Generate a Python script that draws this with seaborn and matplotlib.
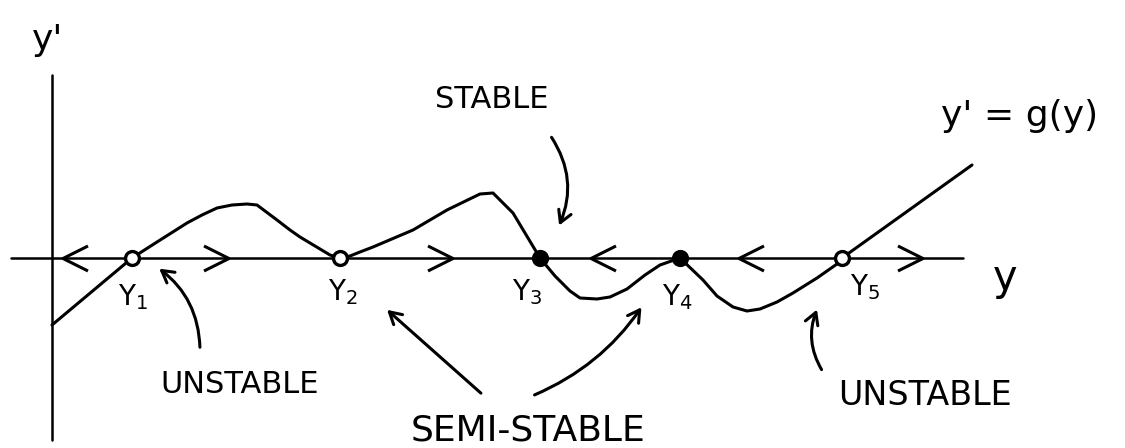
import matplotlib
matplotlib.use("Agg")
import matplotlib.pyplot as plt
from matplotlib.path import Path
import pandas as pd
import seaborn as sns

# g(y) sketched through its equilibria (horizontal: y, vertical: y')
curve_y = [0.0, 8.0, 10.5, 13.5, 15.0, 16.5, 18.0, 19.5, 20.5, 22.5, 23.8,
           24.8, 25.8, 26.8, 27.8, 28.8, 29.8, 30.8, 32.1, 36.1, 39.5, 42.8,
           44.1, 46.1, 48.8, 50.3, 51.8, 52.8, 54.5, 55.8, 57.5, 59.3, 60.8,
           62.8, 65.1, 66.5, 68.1, 69.5, 70.8, 72.5, 74.1, 76.5, 78.5, 79.0,
           92.0]
curve_g = [-6.7, 0.0, 1.6, 3.5, 4.3, 5.0, 5.3, 5.4, 5.3, 3.8, 2.8,
           2.1, 1.5, 0.9, 0.3, 0.0, 0.2, 0.6, 1.1, 2.8, 4.8, 6.4,
           6.5, 4.5, 0.0, -1.8, -3.3, -4.0, -4.1, -3.9, -3.1, -1.7, -0.7,
           0.0, -2.2, -3.8, -4.9, -5.3, -5.1, -4.4, -3.5, -2.0, -0.6, 0.0,
           9.3]

# equilibrium points y1..y5
eq_labels = [r"$\mathregular{Y_1}$", r"$\mathregular{Y_2}$", r"$\mathregular{Y_3}$",
             r"$\mathregular{Y_4}$", r"$\mathregular{Y_5}$"]
eq_pos = [8.0, 28.8, 48.8, 62.8, 79.0]
eq_filled = [False, False, True, True, False]

# flow direction along the phase line (+1 right, -1 left)
flow_pos = [2.3, 16.4, 38.8, 55.1, 69.9, 85.8]
flow_dir = [-1, 1, 1, -1, -1, 1]

# axis extents
h_axis = [-4.1, 91.1]
v_axis = [-18.2, 18.3]

sns.set_theme(style="white")
plt.rcParams["font.family"] = ["DejaVu Sans"]

fig = plt.figure(figsize=(11.25, 4.48), dpi=100)
ax = fig.add_axes([0, 0, 1, 1])
ax.set_xlim(-5.2, 107.3)
ax.set_ylim(-19.0, 25.8)
ax.axis("off")

ink = "black"
lw = 2.2

# coordinate axes
sns.lineplot(x=h_axis, y=[0, 0], ax=ax, color=ink, lw=1.8, estimator=None)
sns.lineplot(x=[0, 0], y=v_axis, ax=ax, color=ink, lw=1.8, estimator=None)

# the curve y' = g(y)
df = pd.DataFrame({"y": curve_y, "g": curve_g})
sns.lineplot(data=df, x="y", y="g", ax=ax, color=ink, lw=lw,
             sort=False, estimator=None)

# flow chevrons
right_chev = Path([(-1, 1), (1, 0), (-1, -1)],
                  [Path.MOVETO, Path.LINETO, Path.LINETO])
left_chev = Path([(1, 1), (-1, 0), (1, -1)],
                 [Path.MOVETO, Path.LINETO, Path.LINETO])
for p, d in zip(flow_pos, flow_dir):
    ax.plot([p], [0], linestyle="none",
            marker=right_chev if d > 0 else left_chev,
            markersize=18, markeredgewidth=lw, markeredgecolor=ink,
            fillstyle="none", zorder=4)

# equilibria
for x, filled in zip(eq_pos, eq_filled):
    ax.plot([x], [0], "o", markersize=10, markeredgewidth=2.4,
            markeredgecolor=ink, markerfacecolor=ink if filled else "white",
            zorder=5)

# equilibrium labels
lab_off = [(0.1, -3.9), (0.3, -3.4), (-1.3, -3.4), (-0.3, -3.9), (2.3, -2.9)]
for x, lab, (dx, dy) in zip(eq_pos, eq_labels, lab_off):
    ax.text(x + dx, dy, lab, fontsize=20, ha="center", va="center", color=ink)

# axis labels
ax.text(-0.4, 21.8, "y'", fontsize=26, ha="center", va="center", color=ink)
ax.text(95.3, -2.0, "y", fontsize=30, ha="center", va="center", color=ink)
ax.text(96.8, 14.2, "y' = g(y)", fontsize=26, ha="center", va="center", color=ink)

# stability annotations
ax.text(44.0, 15.8, "STABLE", fontsize=22, ha="center", va="center", color=ink)
ax.text(18.8, -12.6, "UNSTABLE", fontsize=22, ha="center", va="center", color=ink)
ax.text(87.3, -13.7, "UNSTABLE", fontsize=24, ha="center", va="center", color=ink)
ax.text(47.6, -17.2, "SEMI-STABLE", fontsize=26, ha="center", va="center", color=ink)

arrow_kw = dict(arrowstyle="->,head_length=0.7,head_width=0.4", color=ink, lw=lw)
ax.annotate("", xy=(50.6, 3.0), xytext=(49.8, 12.3),
            arrowprops=dict(**arrow_kw, connectionstyle="arc3,rad=-0.28"))
ax.annotate("", xy=(10.5, -0.9), xytext=(14.8, -9.2),
            arrowprops=dict(**arrow_kw, connectionstyle="arc3,rad=0.25"))
ax.annotate("", xy=(76.6, -4.9), xytext=(77.1, -11.4),
            arrowprops=dict(**arrow_kw, connectionstyle="arc3,rad=-0.26"))
ax.annotate("", xy=(33.3, -5.0), xytext=(43.1, -13.7),
            arrowprops=dict(**arrow_kw, connectionstyle="arc3,rad=0"))
ax.annotate("", xy=(59.1, -4.7), xytext=(48.0, -13.8),
            arrowprops=dict(**arrow_kw, connectionstyle="arc3,rad=0.15"))

fig.savefig("out.png", dpi=100)
